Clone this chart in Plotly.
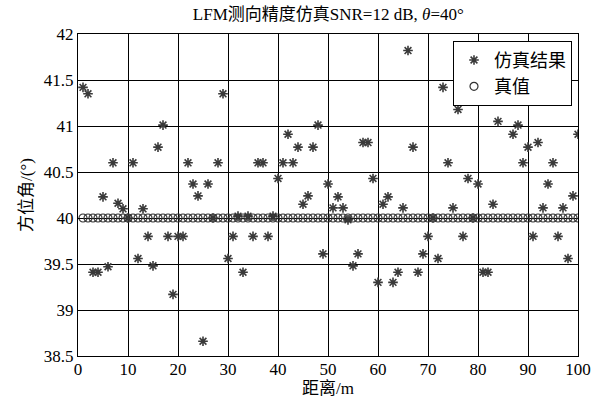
import plotly.graph_objects as go

distance = list(range(1, 101))
sim_result = [
    41.42, 41.35, 39.41, 39.41, 40.23, 39.47, 40.60, 40.16, 40.10, 40.00,
    40.60, 39.56, 40.10, 39.80, 39.48, 40.77, 41.01, 39.80, 39.17, 39.80,
    39.80, 40.60, 40.37, 40.24, 38.66, 40.37, 40.00, 40.60, 41.35, 39.56,
    39.80, 40.02, 39.41, 40.02, 39.80, 40.60, 40.60, 39.80, 40.02, 40.43,
    40.60, 40.91, 40.60, 40.77, 40.15, 40.24, 40.77, 41.01, 39.61, 40.37,
    40.11, 40.23, 40.11, 39.98, 39.48, 39.61, 40.82, 40.82, 40.43, 39.30,
    40.15, 40.23, 39.30, 39.41, 40.11, 41.82, 40.77, 39.41, 39.61, 39.80,
    40.00, 39.56, 41.42, 40.60, 40.11, 41.18, 39.80, 40.43, 40.00, 40.37,
    39.41, 39.41, 40.15, 41.05, 41.42, 41.35, 40.91, 41.01, 40.60, 40.77,
    39.80, 40.82, 40.11, 40.37, 40.60, 39.80, 40.11, 39.56, 40.24, 40.91,
]
true_value = [40.0] * 100

x_ticks = list(range(0, 101, 10))
y_ticks = [38.5, 39, 39.5, 40, 40.5, 41, 41.5, 42]
y_tick_text = ["38.5", "39", "39.5", "40", "40.5", "41", "41.5", "42"]

FONT = "Liberation Serif, Times New Roman, Noto Sans CJK SC, serif"

fig = go.Figure()
fig.add_trace(go.Scatter(
    x=distance, y=sim_result, mode="markers", name="仿真结果",
    marker=dict(symbol="asterisk-open", size=8, color="#3a3a3a",
                line=dict(color="#3a3a3a", width=1.6)),
))
fig.add_trace(go.Scatter(
    x=distance, y=true_value, mode="markers", name="真值",
    marker=dict(symbol="circle-open", size=8, color="#333333",
                line=dict(color="#333333", width=1.2)),
))

fig.update_layout(
    width=608, height=398,
    margin=dict(l=78, r=30, t=34, b=42, autoexpand=False),
    paper_bgcolor="white", plot_bgcolor="white",
    font=dict(family=FONT, size=17, color="black"),
    title=dict(text="LFM测向精度仿真SNR=12 dB, <i>θ</i>=40°", x=0.54, xanchor="center",
               y=0.965, yanchor="middle", font=dict(family=FONT, size=17, color="black")),
    showlegend=True,
    legend=dict(x=0.988, xanchor="right", y=0.979, yanchor="top",
                bgcolor="white", bordercolor="black", borderwidth=1,
                font=dict(family=FONT, size=18, color="black"),
                itemwidth=30, tracegroupgap=0, entrywidth=125, entrywidthmode="pixels"),
)
fig.update_xaxes(
    range=[0, 100], tickvals=x_ticks, showgrid=True, gridcolor="black", gridwidth=1,
    showline=True, linecolor="black", linewidth=1, mirror=True, automargin=False,
    ticks="inside", ticklen=4, tickcolor="black", zeroline=False, ticklabelstandoff=-2,
    title=dict(text="距离/m", standoff=4, font=dict(family=FONT, size=17)),
    tickfont=dict(family=FONT, size=17),
)
fig.update_yaxes(
    range=[38.5, 42], tickvals=y_ticks, ticktext=y_tick_text, showgrid=True,
    gridcolor="black", gridwidth=1, automargin=False,
    showline=True, linecolor="black", linewidth=1, mirror=True,
    ticks="inside", ticklen=4, tickcolor="black", zeroline=False,
    title=dict(text="方位角/(°)", standoff=6, font=dict(family=FONT, size=17)),
    tickfont=dict(family=FONT, size=17),
)

fig.write_html("out.html", config={"displayModeBar": False},
               post_script="document.body.style.margin='0';")
